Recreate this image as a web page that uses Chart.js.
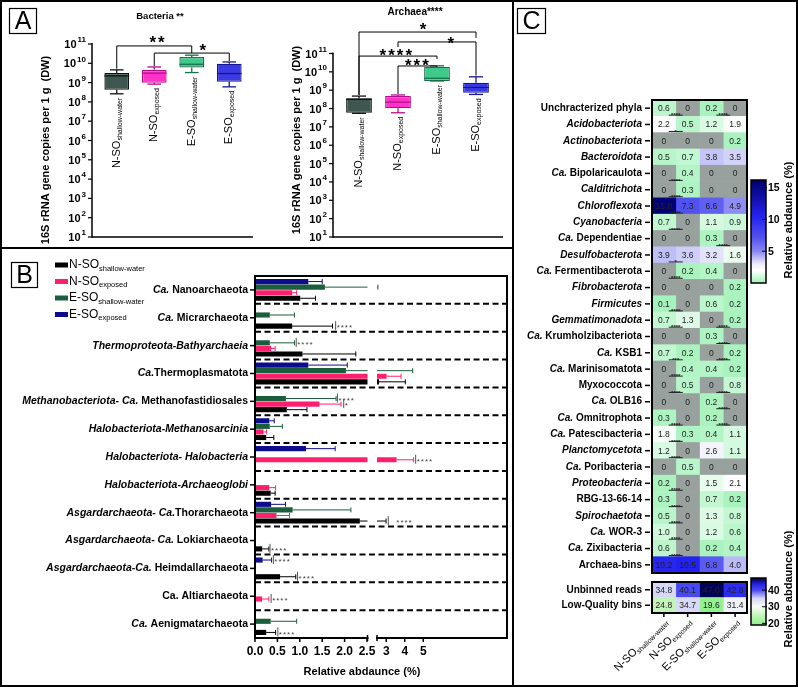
<!DOCTYPE html>
<html>
<head>
<meta charset="utf-8">
<script src="https://cdn.jsdelivr.net/npm/chart.js@4.4.0/dist/chart.umd.min.js"></script>
<style>
  body { margin: 0; background: #fff; }
  #fig { position: relative; width: 798px; height: 687px; overflow: hidden; background: #fff; }
  #fig canvas { position: absolute; }
  .rule { position: absolute; background: #000; }
</style>
</head>
<body>
<div id="fig">
  <canvas id="bacChart" width="260" height="248" style="left:0;top:0"></canvas>
  <canvas id="arcChart" width="253" height="248" style="left:260px;top:0"></canvas>
  <canvas id="barChart" width="513" height="437" style="left:0;top:250px"></canvas>
  <canvas id="heatChart" width="283" height="578" style="left:515px;top:0"></canvas>
  <canvas id="readsChart" width="283" height="167" style="left:515px;top:520px"></canvas>
  <div class="rule" style="left:0;top:0;width:798px;height:2px"></div>
  <div class="rule" style="left:0;top:685px;width:798px;height:2px"></div>
  <div class="rule" style="left:0;top:0;width:2px;height:687px"></div>
  <div class="rule" style="left:796px;top:0;width:2px;height:687px"></div>
  <div class="rule" style="left:512px;top:0;width:2px;height:687px"></div>
  <div class="rule" style="left:0;top:247px;width:513px;height:2px"></div>
</div>
<script>
const FONT = '"Liberation Sans", Arial, Helvetica, sans-serif';

// sample groups
const groupMain = ['N-SO', 'N-SO', 'E-SO', 'E-SO'];
const groupSub = ['shallow-water', 'exposed', 'shallow-water', 'exposed'];

// panel A: log10 16S rRNA gene copies per g
const decades = [1, 2, 3, 4, 5, 6, 7, 8, 9, 10, 11];
const bacLo  = [8.42, 8.92, 9.52, 8.78];
const bacQ1  = [8.63, 8.99, 9.78, 9.04];
const bacMed = [9.35, 9.49, 9.95, 9.47];
const bacQ3  = [9.50, 9.66, 10.33, 9.98];
const bacHi  = [9.66, 9.81, 10.42, 10.07];
const arcLo  = [7.74, 7.77, 9.50, 8.77];
const arcQ1  = [7.77, 8.01, 9.50, 8.86];
const arcMed = [8.50, 8.35, 9.65, 9.15];
const arcQ3  = [8.56, 8.68, 10.28, 9.41];
const arcHi  = [8.68, 8.74, 10.33, 9.73];
// [from, to, level, fromEnd, toEnd, text, labelX, labelY]
const bacBrackets = [
  [0, 2, 10.9, 9.72, 10.53, '**', 1.1, 11.27],
  [1, 3, 10.53, 9.86, 10.12, '*', 2.32, 10.87]
];
const arcBrackets = [
  [0, 3, 12.17, 8.74, 11.85, '*', 1.67, 12.55],
  [1, 3, 11.63, 11.35, 9.8, '*', 2.38, 11.75],
  [0, 2, 10.86, 8.74, 10.7, '****', 0.97, 11.1],
  [1, 2, 10.32, 8.8, 10.3, '***', 1.51, 10.6]
];
const boxFill = ['#3d5750', '#ff33c8', '#3fca8c', '#3a3ae4'];
const boxEdge = ['#111111', '#b0108c', '#17714a', '#16168c'];

// panel B: relative abundance (%), text between underscores is italic
const bGroups = [
  '_Ca._ Nanoarchaeota', '_Ca._ Micrarchaeota', '_Thermoproteota-Bathyarchaeia_', '_Ca._Thermoplasmatota',
  '_Methanobacteriota- Ca._ Methanofastidiosales', '_Halobacteriota-Methanosarcinia_', '_Halobacteriota- Halobacteria_',
  '_Halobacteriota-Archaeoglobi_', '_Asgardarchaeota- Ca._Thorarchaeota', '_Asgardarchaeota- Ca._ Lokiarchaeota',
  '_Asgardarchaeota-Ca._ Heimdallarchaeota', 'Ca. Altiarchaeota', '_Ca._ Aenigmatarchaeota'
];
const nsoShallowMean = [1.01, 0.83, 1.06, 2.61, 0.71, 0.25, 0, 0.35, 2.34, 0.16, 0.56, 0, 0.25];
const nsoShallowErr  = [1.35, 1.73, 2.25, 4.03, 1.16, 0.42, 0, 0.45, 2.99, 0.31, 0.91, 0, 0.46];
const nsoExposedMean = [0.83, 0, 0.36, 3.02, 1.44, 0.19, 3.56, 0.32, 0.48, 0, 0, 0.16, 0];
const nsoExposedErr  = [0.93, 0, 0.45, 3.80, 1.92, 0.26, 4.48, 0.46, 0.77, 0, 0, 0.31, 0];
const esoShallowMean = [1.56, 0.33, 0.33, 2.03, 0.69, 0.33, 0, 0, 0.84, 0, 0, 0, 0.35];
const esoShallowErr  = [2.55, 0.88, 0.88, 4.43, 1.81, 0.61, 0, 0, 2.14, 0, 0, 0, 0.93];
const esoExposedMean = [1.19, 0, 0, 1.19, 0, 0.32, 1.14, 0, 0.36, 0, 0.17, 0, 0];
const esoExposedErr  = [1.50, 0, 0, 2.06, 0, 0.43, 1.79, 0, 0.68, 0, 0.37, 0, 0];
const bMeans = [nsoShallowMean, nsoExposedMean, esoShallowMean, esoExposedMean];
const bErrs = [nsoShallowErr, nsoExposedErr, esoShallowErr, esoExposedErr];
const bColors = ['#000000', '#ff1f6c', '#1b5e3b', '#0c0c8c'];
const bTickValues = [0, 0.5, 1, 1.5, 2, 2.5, 3, 4, 5];
const bTickLabels = ['0.0', '0.5', '1.0', '1.5', '2.0', '2.5', '3', '4', '5'];
// [group, series, x value, text, text gap]
const bSigMarks = [
  [1, 0, 1.80, '****', 1], [2, 2, 0.92, '****', 1], [4, 2, 1.84, '****', 1], [4, 1, 1.98, '*', 1],
  [6, 1, 4.59, '****', 1], [8, 0, 3.11, '****', 8], [9, 0, 0.335, '****', 1], [10, 3, 0.41, '****', 1],
  [10, 0, 0.95, '****', 1], [11, 1, 0.36, '****', 1], [12, 0, 0.51, '****', 1]
];
const BREAK_AT = 2.5, BREAK_GAP = 0.223, BREAK_RATIO = 0.413, B_XMAX = 5.625;

// panel C: bins relative abundance (%)
const heatRows = [
  'Unchracterized phyla', '_Acidobacteriota_', '_Actinobacteriota_', '_Bacteroidota_', '_Ca._ Bipolaricaulota',
  '_Calditrichota_', '_Chloroflexota_', '_Cyanobacteria_', '_Ca._ Dependentiae', '_Desulfobacterota_',
  '_Ca._ Fermentibacterota', '_Fibrobacterota_', '_Firmicutes_', '_Gemmatimonadota_', '_Ca._ Krumholzibacteriota',
  '_Ca._ KSB1', '_Ca._ Marinisomatota', 'Myxococcota', '_Ca._ OLB16', '_Ca._ Omnitrophota', '_Ca._ Patescibacteria',
  '_Planctomycetota_', '_Ca._ Poribacteria', '_Proteobacteria_', 'RBG-13-66-14', '_Spirochaetota_', '_Ca._ WOR-3',
  '_Ca._ Zixibacteria', 'Archaea-bins'
];
const heatNsoShallow = [0.6, 2.2, 0, 0.5, 0, 0, 15.8, 0.7, 0, 3.9, 0, 0, 0.1, 0.7, 0, 0.7, 0, 0, 0, 0.3, 1.8, 1.2, 0, 0.2, 0.3, 0.5, 1.0, 0.6, 10.2];
const heatNsoExposed = [0, 0.5, 0, 0.7, 0.4, 0.3, 7.3, 0, 0, 3.6, 0.2, 0, 0, 1.3, 0, 0.2, 0.4, 0.5, 0, 0, 0.3, 0, 0.5, 0, 0, 0, 0, 0, 10.5];
const heatEsoShallow = [0.2, 1.2, 0, 3.8, 0, 0, 6.6, 1.1, 0.3, 3.2, 0.4, 0, 0.6, 0, 0.3, 0, 0.4, 0, 0.2, 0.2, 0.4, 2.6, 0, 1.5, 0.7, 1.3, 1.2, 0.2, 6.8];
const heatEsoExposed = [0, 1.9, 0.2, 3.5, 0, 0, 4.9, 0.9, 0, 1.6, 0, 0.2, 0.2, 0.2, 0, 0.2, 0.2, 0.8, 0, 0, 1.1, 1.1, 0, 2.1, 0.2, 0.8, 0.6, 0.4, 4.0];
// [row, left column, text]
const heatSig = [
  [0, 0, '****'], [1, 0, '*'], [4, 0, '****'], [5, 0, '****'], [6, 0, '****'], [7, 0, '****'], [9, 0, '*'],
  [10, 0, '****'], [12, 0, '****'], [13, 0, '****'], [15, 0, '***'], [16, 0, '****'], [17, 0, '****'],
  [19, 0, '****'], [20, 0, '****'], [21, 0, '****'], [23, 0, '****'], [24, 0, '****'], [25, 0, '****'],
  [26, 0, '****'], [27, 0, '****'],
  [0, 2, '****'], [8, 2, '****'], [13, 2, '****'], [14, 2, '****'], [15, 2, '****'], [17, 2, '****'],
  [18, 2, '****'], [19, 2, '****']
];
const readsRows = ['Unbinned reads', 'Low-Quality bins'];
const readsNsoShallow = [34.8, 24.8];
const readsNsoExposed = [40.1, 34.7];
const readsEsoShallow = [47.0, 19.6];
const readsEsoExposed = [42.8, 31.4];
const heatStops = [[0, '#a0f2b8'], [2, '#ffffff'], [3, '#ececfc'], [5, '#8888f2'], [7, '#5555f0'], [10.5, '#2222ee'], [16.2, '#00006c']];
const readsStops = [[19, '#8ef08a'], [25, '#c6f5ba'], [30, '#fafdfa'], [35, '#d6d6f8'], [40, '#4a4af2'], [43, '#2a2aee'], [47.3, '#00004a']];
const ZERO_COLOR = '#98a19d';

// ---------- helpers ----------
function font(size, bold, italic) {
  return (italic ? 'italic ' : '') + (bold ? 'bold ' : '') + size + 'px ' + FONT;
}
function seg(ctx, x1, y1, x2, y2) {
  ctx.beginPath(); ctx.moveTo(x1, y1); ctx.lineTo(x2, y2); ctx.stroke();
}
function plainLabel(label) { return label.replace(/_/g, ''); }
function drawRich(ctx, label, xRight, y, size) {
  const parts = label.split('_').map((t, i) => ({ t, italic: i % 2 === 1 })).filter(p => p.t);
  let w = 0;
  parts.forEach(p => { ctx.font = font(size, true, p.italic); w += ctx.measureText(p.t).width; });
  let x = xRight - w;
  ctx.textAlign = 'left';
  ctx.textBaseline = 'middle';
  ctx.fillStyle = '#000';
  parts.forEach(p => {
    ctx.font = font(size, true, p.italic);
    ctx.fillText(p.t, x, y);
    x += ctx.measureText(p.t).width;
  });
}
function drawSubLabel(ctx, main, sub, x, y, size, subSize, align) {
  ctx.font = font(size);
  const w1 = ctx.measureText(main).width;
  ctx.font = font(subSize);
  const w2 = ctx.measureText(sub).width;
  const x0 = align === 'right' ? x - w1 - w2 : x;
  ctx.textAlign = 'left';
  ctx.textBaseline = 'middle';
  ctx.fillStyle = '#000';
  ctx.font = font(size);
  ctx.fillText(main, x0, y);
  ctx.font = font(subSize);
  ctx.fillText(sub, x0 + w1, y + size * 0.3);
}
function panelTag(ctx, letter, x, y, w, h) {
  ctx.strokeStyle = '#000';
  ctx.lineWidth = 1.2;
  ctx.strokeRect(x + 0.5, y + 0.5, w, h);
  ctx.fillStyle = '#000';
  ctx.font = '25px ' + FONT;
  ctx.textAlign = 'center';
  ctx.textBaseline = 'middle';
  ctx.fillText(letter, x + w / 2 + 0.5, y + h / 2 + 1.5);
}
function hexRgb(h) {
  const n = parseInt(h.slice(1), 16);
  return [n >> 16 & 255, n >> 8 & 255, n & 255];
}
function scaleColor(stops, v) {
  if (v <= stops[0][0]) return stops[0][1];
  for (let k = 1; k < stops.length; k++) {
    if (v <= stops[k][0]) {
      const t = (v - stops[k - 1][0]) / (stops[k][0] - stops[k - 1][0]);
      const a = hexRgb(stops[k - 1][1]), b = hexRgb(stops[k][1]);
      return 'rgb(' + a.map((c, m) => Math.round(c + (b[m] - c) * t)).join(',') + ')';
    }
  }
  return stops[stops.length - 1][1];
}
function brk(v) {
  return v <= BREAK_AT ? v : BREAK_AT + BREAK_GAP + (v - BREAK_AT) * BREAK_RATIO;
}

// ---------- panel A ----------
function boxPlugin(cfg) {
  return {
    id: 'box_' + cfg.id,
    afterDatasetsDraw(chart) {
      const ctx = chart.ctx, xs = chart.scales.x, ys = chart.scales.y;
      const meta = chart.getDatasetMeta(0);
      ctx.save();
      meta.data.forEach((bar, i) => {
        const x = bar.x, hw = bar.width / 2;
        const yHi = ys.getPixelForValue(cfg.hi[i]), yLo = ys.getPixelForValue(cfg.lo[i]);
        ctx.strokeStyle = boxEdge[i];
        ctx.lineWidth = 1.3;
        seg(ctx, x, ys.getPixelForValue(cfg.q3[i]), x, yHi);
        seg(ctx, x, ys.getPixelForValue(cfg.q1[i]), x, yLo);
        seg(ctx, x - hw * 0.55, yHi, x + hw * 0.55, yHi);
        seg(ctx, x - hw * 0.55, yLo, x + hw * 0.55, yLo);
        const ym = ys.getPixelForValue(cfg.med[i]);
        seg(ctx, x - hw, ym, x + hw, ym);
        // rotated group label under the lower whisker
        ctx.save();
        ctx.translate(x, yLo + 4);
        ctx.rotate(-Math.PI / 2);
        drawSubLabel(ctx, groupMain[i], groupSub[i], 0, 0, 11, 7, 'right');
        ctx.restore();
      });
      // axes
      const top = ys.getPixelForValue(11), bottom = ys.getPixelForValue(1);
      ctx.strokeStyle = '#000';
      ctx.lineWidth = 1.5;
      seg(ctx, cfg.axisX, top - 1, cfg.axisX, bottom + 0.75);
      seg(ctx, cfg.axisX, bottom, cfg.axisEnd, bottom);
      decades.forEach(d => {
        const y = ys.getPixelForValue(d);
        ctx.lineWidth = 1.2;
        seg(ctx, cfg.axisX - 4, y, cfg.axisX, y);
        ctx.font = font(8, true);
        const we = ctx.measureText(String(d)).width;
        ctx.font = font(11, true);
        const wb = ctx.measureText('10').width;
        const xr = cfg.axisX - 6;
        ctx.fillStyle = '#000';
        ctx.textAlign = 'left';
        ctx.textBaseline = 'middle';
        ctx.fillText('10', xr - we - wb - 1, y + 1);
        ctx.font = font(8, true);
        ctx.fillText(String(d), xr - we, y - 4);
      });
      // significance brackets
      const step = xs.getPixelForValue(1) - xs.getPixelForValue(0);
      cfg.brackets.forEach(([a, c, level, endA, endC, text, tx, ty]) => {
        const xa = xs.getPixelForValue(a), xc = xs.getPixelForValue(c), yl = ys.getPixelForValue(level);
        ctx.strokeStyle = '#000';
        ctx.lineWidth = 1;
        ctx.beginPath();
        ctx.moveTo(xa, ys.getPixelForValue(endA));
        ctx.lineTo(xa, yl);
        ctx.lineTo(xc, yl);
        ctx.lineTo(xc, ys.getPixelForValue(endC));
        ctx.stroke();
        ctx.font = font(17, true);
        ctx.letterSpacing = '2px';
        ctx.textAlign = 'center';
        ctx.textBaseline = 'alphabetic';
        ctx.fillText(text, xs.getPixelForValue(0) + tx * step, ys.getPixelForValue(ty) + 17 * 0.57);
        ctx.letterSpacing = '0px';
      });
      // titles
      ctx.font = font(cfg.titleSize, true);
      ctx.textAlign = 'center';
      ctx.textBaseline = 'middle';
      ctx.fillText(cfg.title, cfg.titleX, cfg.titleY);
      ctx.save();
      ctx.translate(cfg.yTitleX, cfg.yTitleY);
      ctx.rotate(-Math.PI / 2);
      ctx.font = font(11, true);
      ctx.fillText('16S rRNA gene copies per 1 g  (DW)', 0, 0);
      ctx.restore();
      if (cfg.tag) panelTag(ctx, cfg.tag, 9, 8, 27, 25);
      ctx.restore();
    }
  };
}

function boxChart(canvasId, cfg) {
  return new Chart(document.getElementById(canvasId), {
    type: 'bar',
    data: {
      labels: groupMain.map((m, i) => m + groupSub[i]),
      datasets: [{
        data: cfg.q1.map((v, i) => [v, cfg.q3[i]]),
        backgroundColor: boxFill,
        borderColor: boxEdge,
        borderWidth: 1.3,
        borderSkipped: false,
        barPercentage: 0.66,
        categoryPercentage: 1
      }]
    },
    options: {
      responsive: false,
      animation: false,
      layout: { padding: cfg.padding },
      scales: {
        x: { display: false },
        y: { display: false, min: 1, max: 11 }
      },
      plugins: { legend: { display: false }, tooltip: { enabled: false } }
    },
    plugins: [boxPlugin(cfg)]
  });
}

boxChart('bacChart', {
  id: 'bac', lo: bacLo, q1: bacQ1, med: bacMed, q3: bacQ3, hi: bacHi, brackets: bacBrackets,
  padding: { left: 98, right: 12, top: 44, bottom: 11 }, axisX: 92, axisEnd: 253,
  title: 'Bacteria **', titleSize: 9.5, titleX: 160, titleY: 16, yTitleX: 46, yTitleY: 150, tag: 'A'
});
boxChart('arcChart', {
  id: 'arc', lo: arcLo, q1: arcQ1, med: arcMed, q3: arcQ3, hi: arcHi, brackets: arcBrackets,
  padding: { left: 79.5, right: 17.5, top: 53.5, bottom: 11 }, axisX: 73, axisEnd: 243,
  title: 'Archaea****', titleSize: 10, titleX: 155, titleY: 12, yTitleX: 37, yTitleY: 140
});

// ---------- panel B ----------
const bPlugin = {
  id: 'bDecor',
  afterDatasetsDraw(chart) {
    const ctx = chart.ctx, xs = chart.scales.x, ys = chart.scales.y, area = chart.chartArea;
    const px = v => xs.getPixelForValue(brk(v));
    ctx.save();
    // error bars
    chart.data.datasets.forEach((ds, di) => {
      const s = ds.series, meta = chart.getDatasetMeta(di);
      ctx.strokeStyle = bColors[s];
      ctx.lineWidth = 1;
      bErrs[s].forEach((e, i) => {
        if (!e) return;
        const y = meta.data[i].y, x1 = px(e);
        seg(ctx, px(bMeans[s][i]), y, x1, y);
        seg(ctx, x1, y - 2.5, x1, y + 2.5);
      });
    });
    // axis break
    const gx0 = xs.getPixelForValue(BREAK_AT) + 0.5;
    const gx1 = xs.getPixelForValue(BREAK_AT + BREAK_GAP);
    ctx.fillStyle = '#fff';
    ctx.fillRect(gx0, area.top + 1, gx1 - gx0, area.height - 2);
    // dashed separators
    ctx.strokeStyle = '#000';
    ctx.lineWidth = 2;
    ctx.setLineDash([6, 3.5]);
    for (let g = 1; g < bGroups.length; g++) {
      const y = (ys.getPixelForValue(g - 1) + ys.getPixelForValue(g)) / 2;
      seg(ctx, area.left, y, area.right, y);
    }
    ctx.setLineDash([]);
    ctx.strokeRect(area.left, area.top, area.width, area.height);
    ctx.fillStyle = '#fff';
    ctx.fillRect(gx0 + 1, area.bottom - 2, gx1 - gx0 - 2, 4);
    ctx.lineWidth = 1.5;
    seg(ctx, gx0, area.bottom - 3, gx0, area.bottom + 3);
    seg(ctx, gx1, area.bottom - 3, gx1, area.bottom + 3);
    // x ticks
    ctx.fillStyle = '#000';
    bTickValues.forEach((v, k) => {
      const x = px(v);
      seg(ctx, x, area.bottom, x, area.bottom + 4);
      ctx.font = font(12, true);
      ctx.textAlign = 'center';
      ctx.textBaseline = 'middle';
      ctx.fillText(bTickLabels[k], x, area.bottom + 14);
    });
    ctx.font = font(11, true);
    ctx.fillText('Relative abdaunce (%)', 362, area.bottom + 34);
    // category labels
    bGroups.forEach((g, i) => {
      const y = ys.getPixelForValue(i);
      drawRich(ctx, g, area.left - 7, y, 10.5);
      ctx.lineWidth = 1.5;
      seg(ctx, area.left - 5, y, area.left, y);
    });
    // significance marks
    bSigMarks.forEach(([g, s, v, text, gap]) => {
      const y = chart.getDatasetMeta(3 - s).data[g].y, x = px(v);
      ctx.strokeStyle = '#555';
      ctx.lineWidth = 1;
      seg(ctx, x, y - 5, x, y + 4);
      ctx.fillStyle = '#444';
      ctx.font = font(8);
      ctx.textAlign = 'left';
      ctx.textBaseline = 'middle';
      ctx.letterSpacing = '1px';
      ctx.fillText(text, x + gap, y + 2);
      ctx.letterSpacing = '0px';
    });
    // legend
    [0, 1, 2, 3].forEach(s => {
      const y = 15 + s * 16.5;
      ctx.fillStyle = bColors[s];
      ctx.fillRect(55, y - 2.5, 13, 5);
      drawSubLabel(ctx, groupMain[s], groupSub[s], 69, y, 12, 7.5, 'left');
    });
    panelTag(ctx, 'B', 11, 12, 26, 25);
    ctx.restore();
  }
};

new Chart(document.getElementById('barChart'), {
  type: 'bar',
  data: {
    labels: bGroups.map(plainLabel),
    datasets: [3, 2, 1, 0].map(s => ({
      label: groupMain[s] + groupSub[s],
      series: s,
      data: bMeans[s].map(brk),
      backgroundColor: bColors[s],
      borderWidth: 0,
      categoryPercentage: 0.8,
      barPercentage: 0.92
    }))
  },
  options: {
    indexAxis: 'y',
    responsive: false,
    animation: false,
    layout: { padding: { left: 255, right: 6, top: 26, bottom: 49 } },
    scales: {
      x: { type: 'linear', min: 0, max: B_XMAX, display: false },
      y: { display: false }
    },
    plugins: { legend: { display: false }, tooltip: { enabled: false } }
  },
  plugins: [bPlugin]
});

// ---------- panel C ----------
function colorBar(ctx, bar) {
  const { x, w, top, bottom, min, max, stops, ticks } = bar;
  const grad = ctx.createLinearGradient(0, bottom, 0, top);
  stops.forEach(([v, c]) => grad.addColorStop(Math.min(1, Math.max(0, (v - min) / (max - min))), c));
  ctx.fillStyle = grad;
  ctx.fillRect(x, top, w, bottom - top);
  ctx.strokeStyle = '#000';
  ctx.lineWidth = 1.5;
  ctx.strokeRect(x, top, w, bottom - top);
  const py = v => bottom - (v - min) / (max - min) * (bottom - top);
  ctx.fillStyle = '#000';
  ctx.font = font(10.5, true);
  ctx.textAlign = 'left';
  ctx.textBaseline = 'middle';
  ticks.forEach(t => {
    ctx.lineWidth = 1;
    seg(ctx, x + w - 4, py(t), x + w + 1, py(t));
    ctx.fillText(String(t), x + w + 2, py(t) + 0.5);
  });
  ctx.save();
  ctx.translate(bar.titleX, bar.titleY);
  ctx.rotate(-Math.PI / 2);
  ctx.font = font(bar.titleSize, true);
  ctx.textAlign = 'center';
  ctx.textBaseline = 'middle';
  ctx.fillText('Relative abdaunce (%)', 0, 0);
  ctx.restore();
}

function heatPlugin(cfg) {
  return {
    id: 'heat_' + cfg.id,
    afterDatasetsDraw(chart) {
      const ctx = chart.ctx, ys = chart.scales.y, area = chart.chartArea;
      ctx.save();
      ctx.fillStyle = '#222';
      ctx.font = font(8.5);
      ctx.textAlign = 'center';
      ctx.textBaseline = 'middle';
      chart.data.datasets.forEach((ds, j) => {
        const meta = chart.getDatasetMeta(j);
        cfg.cols[j].forEach((v, i) => {
          const el = meta.data[i];
          ctx.fillText(v === 0 ? '0' : v.toFixed(1), (el.x + el.base) / 2, el.y + 0.5);
        });
      });
      (cfg.sig || []).forEach(([row, col, text]) => {
        const el = chart.getDatasetMeta(col).data[row];
        const bx = el.x, ly = el.y + 7;
        ctx.strokeStyle = '#222';
        ctx.lineWidth = 1;
        seg(ctx, bx - 7, ly, bx + 7, ly);
        ctx.fillStyle = '#222';
        ctx.font = font(6, true);
        ctx.textBaseline = 'alphabetic';
        ctx.fillText(text, bx, ly + 2.2);
      });
      ctx.strokeStyle = '#000';
      ctx.lineWidth = 2;
      ctx.strokeRect(area.left, area.top, area.width, area.height);
      cfg.rows.forEach((r, i) => {
        const y = ys.getPixelForValue(i);
        drawRich(ctx, r, area.left - 10, y, 10);
        ctx.lineWidth = 1.5;
        seg(ctx, area.left - 7, y, area.left - 2, y);
      });
      if (cfg.xLabels) {
        chart.data.datasets.forEach((ds, j) => {
          const el = chart.getDatasetMeta(j).data[cfg.rows.length - 1];
          const cx = (el.x + el.base) / 2;
          ctx.strokeStyle = '#000';
          ctx.lineWidth = 1.5;
          seg(ctx, cx, area.bottom, cx, area.bottom + 4);
          ctx.save();
          ctx.translate(cx + 2, area.bottom + 7);
          ctx.rotate(-Math.PI / 4);
          drawSubLabel(ctx, groupMain[j], groupSub[j], 0, 0, 11, 7, 'right');
          ctx.restore();
        });
      }
      colorBar(ctx, cfg.bar);
      if (cfg.tag) panelTag(ctx, cfg.tag, 2, 8, 28, 25);
      ctx.restore();
    }
  };
}

function heatChart(canvasId, cfg) {
  return new Chart(document.getElementById(canvasId), {
    type: 'bar',
    data: {
      labels: cfg.rows.map(plainLabel),
      datasets: cfg.cols.map((col, j) => ({
        label: groupMain[j] + groupSub[j],
        data: col.map(() => 1),
        backgroundColor: col.map(v => v === 0 ? ZERO_COLOR : scaleColor(cfg.bar.stops, v)),
        borderWidth: 0,
        categoryPercentage: 1,
        barPercentage: 1
      }))
    },
    options: {
      indexAxis: 'y',
      responsive: false,
      animation: false,
      layout: { padding: cfg.padding },
      scales: {
        x: { stacked: true, min: 0, max: 4, display: false },
        y: { stacked: true, display: false }
      },
      plugins: { legend: { display: false }, tooltip: { enabled: false } }
    },
    plugins: [heatPlugin(cfg)]
  });
}

heatChart('heatChart', {
  id: 'bins', rows: heatRows, cols: [heatNsoShallow, heatNsoExposed, heatEsoShallow, heatEsoExposed],
  sig: heatSig, tag: 'C',
  padding: { left: 137, right: 51, top: 100, bottom: 5 },
  bar: { x: 236, w: 15, top: 180, bottom: 283, min: 0, max: 16.2, stops: heatStops, ticks: [5, 10, 15], titleX: 274, titleY: 220, titleSize: 11 }
});
heatChart('readsChart', {
  id: 'reads', rows: readsRows, cols: [readsNsoShallow, readsNsoExposed, readsEsoShallow, readsEsoExposed],
  xLabels: true,
  padding: { left: 137, right: 51, top: 62, bottom: 74 },
  bar: { x: 236, w: 15, top: 58, bottom: 105, min: 19, max: 47.3, stops: readsStops, ticks: [20, 30, 40], titleX: 274, titleY: 69, titleSize: 11 }
});
</script>
</body>
</html>
